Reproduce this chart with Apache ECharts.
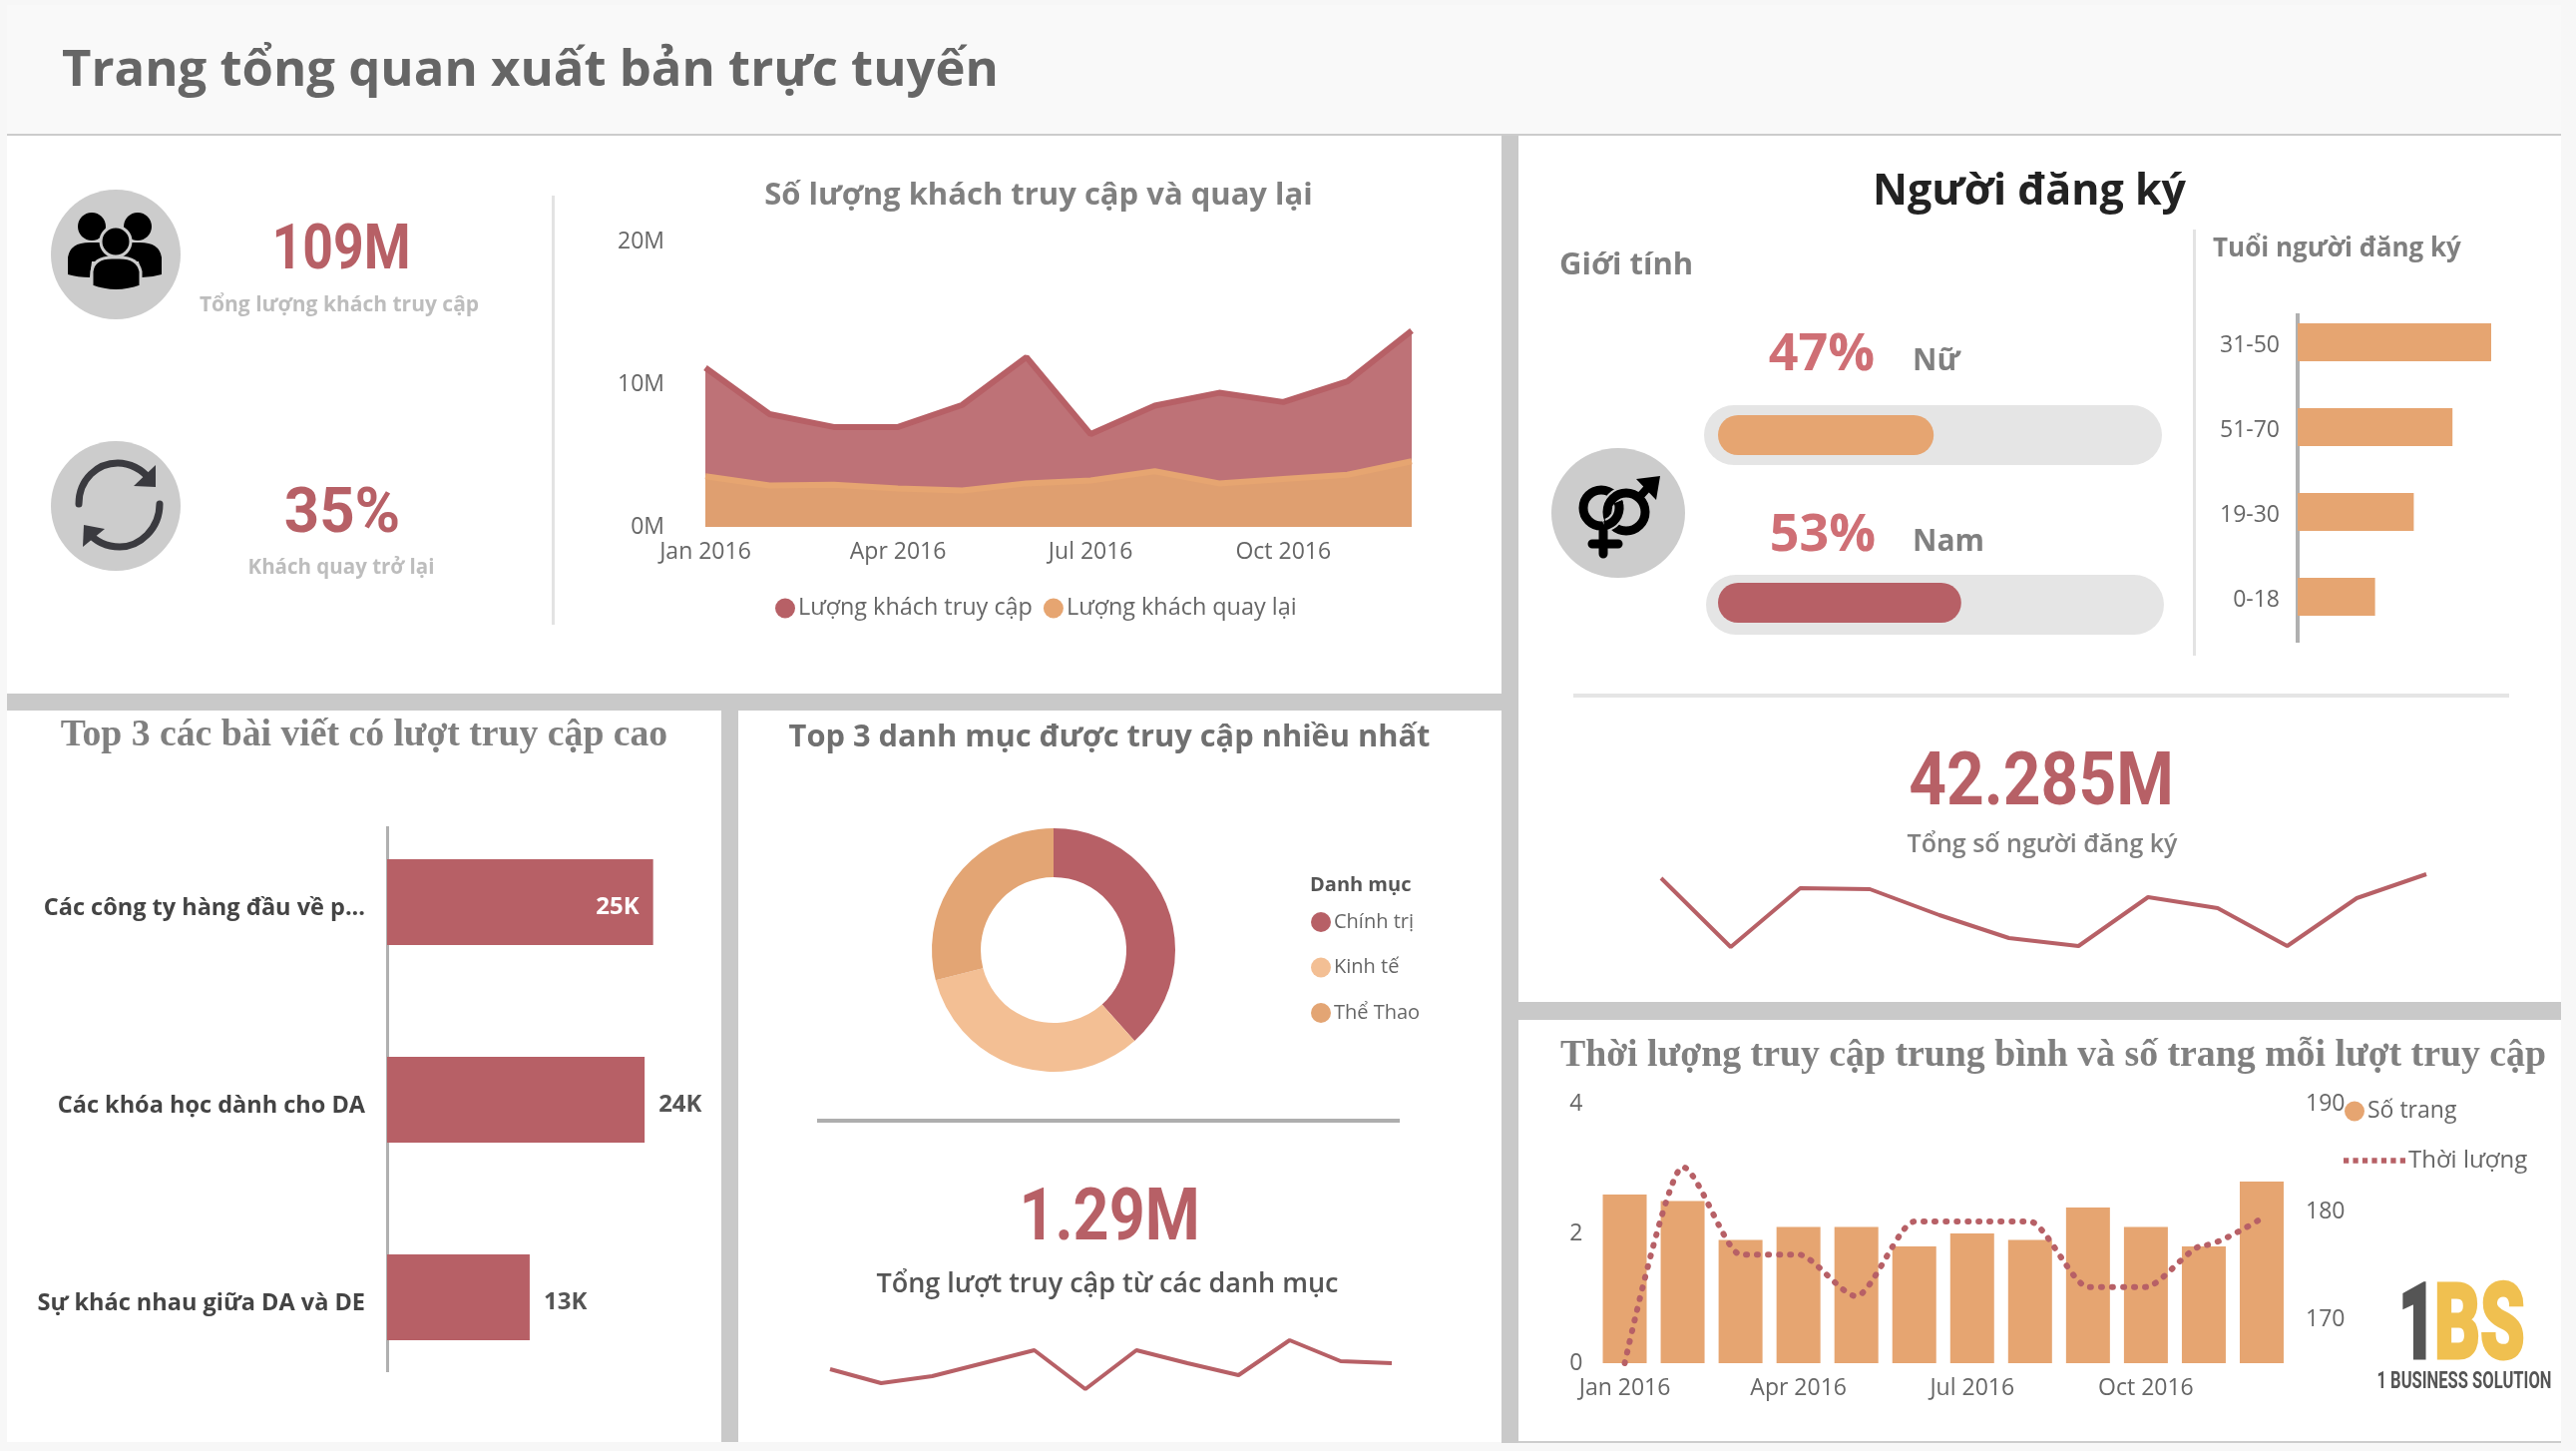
<!DOCTYPE html>
<html><head><meta charset="utf-8">
<style>html,body{margin:0;padding:0;background:#f7f7f7}#c{width:2582px;height:1454px}</style>
<script src="https://cdn.jsdelivr.net/npm/echarts@6/dist/echarts.min.js"></script>
</head><body><div id="c"></div>
<script>
const months = ['Jan 2016','Feb 2016','Mar 2016','Apr 2016','May 2016','Jun 2016','Jul 2016','Aug 2016','Sep 2016','Oct 2016','Nov 2016','Dec 2016'];
const visits = [11.15,7.9,7.0,7.0,8.55,11.9,6.5,8.5,9.4,8.75,10.2,13.75];
const returning = [3.55,2.9,2.95,2.7,2.55,3.05,3.25,3.9,3.05,3.35,3.65,4.6];
const articleNames = ['Các công ty hàng đầu về p...','Các khóa học dành cho DA','Sự khác nhau giữa DA và DE'];
const articleViews = [25,24.2,13.4];
const categoryNames = ['Chính trị','Kinh tế','Thể Thao'];
const categoryShares = [38.4,32.6,29];
const categoryVisits = [108,94,101,114,127,88,127,114,102,137,116,114];
const genderNames = ['Nữ','Nam'];
const genderShares = [47,53];
const ageGroups = ['31-50','51-70','19-30','0-18'];
const ageCounts = [5,4,3,2];
const subscribers = [4.2,2.82,4.0,3.98,3.46,3.0,2.84,3.82,3.6,2.84,3.8,4.28];
const pages = [2.6,2.5,1.9,2.1,2.1,1.8,2.0,1.9,2.4,2.1,1.8,2.8];
const duration = [166,184.15,176.05,176.05,172.2,179.1,179.1,179.1,173.05,173.05,176.9,179.4];

const RED='#b76066', ORG='#e6a571', PEACH='#f3bf94', GRAY='#808080', ICON='#cccccc';
const SANS='"Open Sans"', COND='"Roboto"', SERIF='"Liberation Serif"';
let shapeNo=0;
const regPath=d=>{const n='icon'+(shapeNo++);echarts.graphic.registerShape(n,echarts.graphic.extendPath(d,{}));return n;};
const rect=(x,y,w,h,fill,r)=>({type:'rect',silent:true,shape:{x,y,width:w,height:h,r:r||0},style:{fill}});
const txt=(x,y,text,size,weight,fill,family,align)=>({type:'text',silent:true,style:{x,y:y+Math.round(size*.07),text,fontSize:size,fontWeight:weight,fill,fontFamily:family||SANS,textAlign:align||'center',textVerticalAlign:'middle'}});
const cond=(x,y,text,size,scale,fill,weight,align,bold)=>({type:'text',silent:true,x,y:y+size*.09,scaleX:scale,style:{x:0,y:0,text,fontSize:size,fontWeight:weight||700,fill,stroke:bold?fill:null,lineWidth:bold||0,fontFamily:COND,textAlign:align||'center',textVerticalAlign:'middle'}});
const ell=(cx,cy,rx,ry,fill,st,w)=>({type:'ellipse',silent:true,shape:{cx,cy,rx,ry},style:{fill,stroke:st||null,lineWidth:w||0}});
const stroke=(d,color,w)=>({type:regPath(d),silent:true,style:{fill:'none',stroke:color,lineWidth:w,lineCap:'round'}});
const fillp=(d,color,st,w)=>({type:regPath(d),silent:true,style:{fill:color,stroke:st||null,lineWidth:w||0}});
const ring=(cx,cy,r,color,w)=>({type:'circle',silent:true,shape:{cx,cy,r},style:{fill:'none',stroke:color,lineWidth:w}});
const arc=(cx,cy,r,a,b,color,w)=>({type:'arc',silent:true,shape:{cx,cy,r,startAngle:a,endAngle:b,clockwise:true},style:{fill:'none',stroke:color,lineWidth:w}});

const graphics=[
 rect(7,5,2560,129,'#f9f9f9'),
 rect(7,134,2560,2,'#cccccc'),
 rect(7,136,1498,559,'#fff'),
 rect(1505,136,17,1310,'#c9c9c9'),
 rect(7,695,1498,17,'#c9c9c9'),
 rect(7,712,716,733,'#fff'),
 rect(723,712,17,733,'#c9c9c9'),
 rect(740,712,765,733,'#fff'),
 rect(1522,136,1045,868,'#fff'),
 rect(1522,1004,1045,18,'#c9c9c9'),
 rect(1522,1022,1045,422,'#fff'),
 rect(1522,1444,1045,2,'#cccccc'),

 txt(62,68,'Trang tổng quan xuất bản trực tuyến',50.8,700,'#666666',SANS,'left'),

 // people icon
 ell(116,255,65,65,ICON),
 ell(92,227,14,14,'#000'),ell(138,227,14,14,'#000'),
 fillp('M68 275 L68 258 Q70 243 90 243 L105 243 L112 262 L92 262 L90 278 Q78 278 68 275 Z','#000'),
 fillp('M162 275 L162 258 Q160 243 140 243 L125 243 L118 262 L139 262 L142 278 Q152 278 162 275 Z','#000'),
 fillp('M92 287 L92 272 Q94 258 112 258 L120 258 Q138 258 141 272 L141 287 Q116 296 92 287 Z','#000',ICON,3),
 ell(116,242,15,15,'#000',ICON,3),

 // refresh icon
 ell(116,507,65,65,ICON),
 stroke('M79 505 C79 480 98 464 118 464 C130 464 142 470 150 480','#3a3a3f',7),
 fillp('M156 466 L156 488 L134 487 Z','#3a3a3f'),
 stroke('M160 505 C160 530 140 548 120 548 C106 548 96 543 88 533','#3a3a3f',7),
 fillp('M83 548 L84 526 L105 530 Z','#3a3a3f'),

 cond(342,248,'109M',63,.85,RED),
 txt(340,305.5,'Tổng lượng khách truy cập',21,700,'#bdbdbd'),
 cond(343,512,'35%',63,.98,RED),
 txt(342,568.5,'Khách quay trở lại',20.5,700,'#bdbdbd'),
 rect(553,196,3,430,'#e3e3e3'),
 txt(1041,194,'Số lượng khách truy cập và quay lại',31,700,GRAY),

 // article panel
 txt(365,734,'Top 3 các bài viết có lượt truy cập cao',37.7,700,GRAY,SERIF),
 rect(387,828,3,547,'#b0b0b0'),

 // categories panel
 txt(1112,737.5,'Top 3 danh mục được truy cập nhiều nhất',30.8,700,'#707070'),
 txt(1313,886,'Danh mục',20,700,'#555555',SANS,'left'),
 rect(819,1121,584,4,'#aeaeae'),
 cond(1112,1217,'1.29M',73,.86,RED),
 txt(1110,1285.5,'Tổng lượt truy cập từ các danh mục',27,600,'#555555'),

 // subscribers panel
 txt(2034,190,'Người đăng ký',43,700,'#222222'),
 txt(1563,264,'Giới tính',31,700,GRAY,SANS,'left'),
 rect(2198,230,3,427,'#e3e3e3'),
 txt(2218,248,'Tuổi người đăng ký',26,700,GRAY,SANS,'left'),
 rect(2301,314,4,330,'#b0b0b0'),
 txt(1826,352,genderShares[0]+'%',52,700,'#cf6f75'),
 txt(1917,360,genderNames[0],30,700,GRAY,SANS,'left'),
 rect(1708,406,459,60,'#e5e5e5',30),
 txt(1827,533,genderShares[1]+'%',52,700,'#cf6f75'),
 txt(1917,541,genderNames[1],30,700,GRAY,SANS,'left'),
 rect(1710,576,459,60,'#e5e5e5',30),
 rect(1577,695,938,4,'#e5e5e5'),
 cond(2046,781,'42.285M',74,.89,RED),
 txt(2047,844.5,'Tổng số người đăng ký',25,600,GRAY),

 // gender icon
 ell(1622,514,67,65,ICON),
 ring(1605,509,18,'#000',9),
 stroke('M1607 532 L1607 555 M1596 545 L1622 545','#000',9),
 ring(1630,513,19,ICON,13),
 ring(1630,513,19,'#000',9),
 arc(1605,509,18,-.2,1.25,ICON,13),
 arc(1605,509,18,-.35,1.4,'#000',9),
 stroke('M1645 496 L1656 484','#000',8),
 fillp('M1640 480 L1664 477 L1660 501 Z','#000'),

 // duration panel
 txt(2058,1055,'Thời lượng truy cập trung bình và số trang mỗi lượt truy cập',37.8,700,GRAY,SERIF),
 cond(2404,1325,'1',105,.62,'#555555',900,'left',3),
 cond(2440,1325,'BS',105,.68,'#f0c050',900,'left',3),
 cond(2470,1383,'1 BUSINESS SOLUTION',23,.72,'#555555',700)
];

const axisText={color:'#666666',fontSize:23,fontFamily:SANS};
const hideX=(i,extra)=>Object.assign({type:'value',gridIndex:i,show:false,splitLine:{show:false}},extra);
const hideY=(i,extra)=>Object.assign({type:'value',gridIndex:i,show:false,splitLine:{show:false}},extra);
const spark=(i)=>({type:'category',gridIndex:i,data:months,show:false,boundaryGap:false});

const option={
 animation:false,
 backgroundColor:'#f7f7f7',
 textStyle:{fontFamily:SANS},
 graphic:{elements:graphics},
 grid:[
  {left:707,top:242,width:708,height:286},
  {left:388,top:805,width:320,height:594},
  {left:832,top:1330,width:563,height:70},
  {left:2303,top:300.5,width:240,height:340},
  {left:1722,top:352,width:460,height:336},
  {left:1665,top:870,width:767,height:90},
  {left:1599.5,top:1106,width:696.5,height:260}
 ],
 xAxis:[
  {type:'category',gridIndex:0,data:months,boundaryGap:false,axisLine:{show:false},axisTick:{show:false},axisLabel:Object.assign({interval:2,margin:14},axisText)},
  hideX(1,{min:0,max:30}),
  spark(2),
  hideX(3,{min:0,max:240/38.8}),
  hideX(4,{min:0,max:100}),
  spark(5),
  {type:'category',gridIndex:6,data:months,axisLine:{show:false},axisTick:{show:false},axisLabel:Object.assign({interval:2,margin:14},axisText)}
 ],
 yAxis:[
  {type:'value',gridIndex:0,min:0,max:20,interval:10,splitLine:{show:false},axisLine:{show:false},axisTick:{show:false},axisLabel:Object.assign({margin:41,padding:[4,0,0,0],formatter:'{value}M'},axisText)},
  {type:'category',gridIndex:1,data:articleNames,inverse:true,axisLine:{show:false},axisTick:{show:false},axisLabel:{margin:22,verticalAlign:'top',lineHeight:12,color:'#444444',fontSize:23.5,fontWeight:700,fontFamily:SANS}},
  hideY(2,{min:80,max:150}),
  {type:'category',gridIndex:3,data:ageGroups,inverse:true,axisLine:{show:false},axisTick:{show:false},axisLabel:Object.assign({margin:18,verticalAlign:'top',lineHeight:6},axisText)},
  {type:'category',gridIndex:4,data:genderNames,inverse:true,show:false},
  hideY(5,{min:2.6,max:4.4}),
  {type:'value',gridIndex:6,min:0,max:4,interval:2,splitLine:{show:false},axisLine:{show:false},axisTick:{show:false},axisLabel:Object.assign({margin:13,padding:[4,0,0,0]},axisText)},
  {type:'value',gridIndex:6,min:166,max:190,position:'right',splitLine:{show:false},axisLine:{show:false},axisTick:{show:false},axisLabel:Object.assign({margin:15,padding:[4,0,0,0],customValues:[170,180,190]},axisText)}
 ],
 legend:[
  {data:['Lượng khách truy cập','Lượng khách quay lại'],left:772,top:593,icon:'circle',itemWidth:20,itemHeight:20,itemGap:11,textStyle:{color:'#666666',fontSize:23.4,fontFamily:SANS,padding:[0,0,0,-2]}},
  {data:categoryNames,orient:'vertical',left:1309,top:909,icon:'circle',itemWidth:20,itemHeight:20,itemGap:25.5,textStyle:{color:'#666666',fontSize:20,fontFamily:SANS,padding:[0,0,0,-2]}},
  {data:['Số trang'],left:2345,top:1097,icon:'circle',itemWidth:20,itemHeight:20,textStyle:{color:'#666666',fontSize:23,fontFamily:SANS,padding:[0,0,0,-2]}},
  {data:['Thời lượng'],left:2344,top:1146,icon:'path://M0 0H5V5H0Z M9 0H14V5H9Z M18 0H23V5H18Z M27 0H32V5H27Z M36 0H41V5H36Z M45 0H50V5H45Z M54 0H59V5H54Z',itemWidth:62,itemHeight:6,lineStyle:{width:0,opacity:0},textStyle:{color:'#666666',fontSize:24,fontFamily:SANS,padding:[0,0,0,-2]}}
 ],
 series:[
  {name:'Lượng khách truy cập',type:'line',xAxisIndex:0,yAxisIndex:0,data:visits,symbol:'none',itemStyle:{color:RED},lineStyle:{color:RED,width:6},areaStyle:{color:'#bb6a70',opacity:.95}},
  {name:'Lượng khách quay lại',type:'line',xAxisIndex:0,yAxisIndex:0,data:returning,symbol:'none',itemStyle:{color:ORG},lineStyle:{color:ORG,width:6},areaStyle:{color:'#df9f70',opacity:1}},
  {name:'Bài viết',type:'bar',xAxisIndex:1,yAxisIndex:1,data:articleViews.map((v,i)=>({value:v,label:{position:i===0?'insideRight':'right',color:i===0?'#ffffff':'#555555',distance:14}})),barWidth:86,itemStyle:{color:RED},label:{show:true,fontSize:24,fontWeight:700,fontFamily:SANS,offset:[0,5],formatter:p=>Math.round(p.value)+'K'}},
  {name:'Danh mục',type:'pie',center:[1056,952],radius:[73,122],startAngle:90,data:categoryNames.map((n,i)=>({name:n,value:categoryShares[i],itemStyle:{color:[RED,PEACH,'#e3a574'][i]}})),label:{show:false},labelLine:{show:false}},
  {name:'Lượt truy cập',type:'line',xAxisIndex:2,yAxisIndex:2,data:categoryVisits,symbol:'none',lineStyle:{color:RED,width:4}},
  {name:'Tuổi',type:'bar',xAxisIndex:3,yAxisIndex:3,data:ageCounts,barWidth:38,itemStyle:{color:ORG}},
  {name:'Giới tính',type:'bar',xAxisIndex:4,yAxisIndex:4,barWidth:40,data:genderShares.map((v,i)=>({value:v,itemStyle:{color:[ORG,RED][i],borderRadius:20}}))},
  {name:'Người đăng ký',type:'line',xAxisIndex:5,yAxisIndex:5,data:subscribers,symbol:'none',lineStyle:{color:RED,width:4}},
  {name:'Số trang',type:'bar',xAxisIndex:6,yAxisIndex:6,data:pages,barWidth:44,itemStyle:{color:ORG}},
  {name:'Thời lượng',type:'line',xAxisIndex:6,yAxisIndex:7,data:duration,symbol:'none',smooth:.25,smoothMonotone:'x',z:5,itemStyle:{color:RED},lineStyle:{color:RED,width:6,type:[1,10],cap:'round'}}
 ]
};
const chart=echarts.init(document.getElementById('c'),null,{renderer:'canvas'});
chart.setOption(option);
</script>
</body></html>
